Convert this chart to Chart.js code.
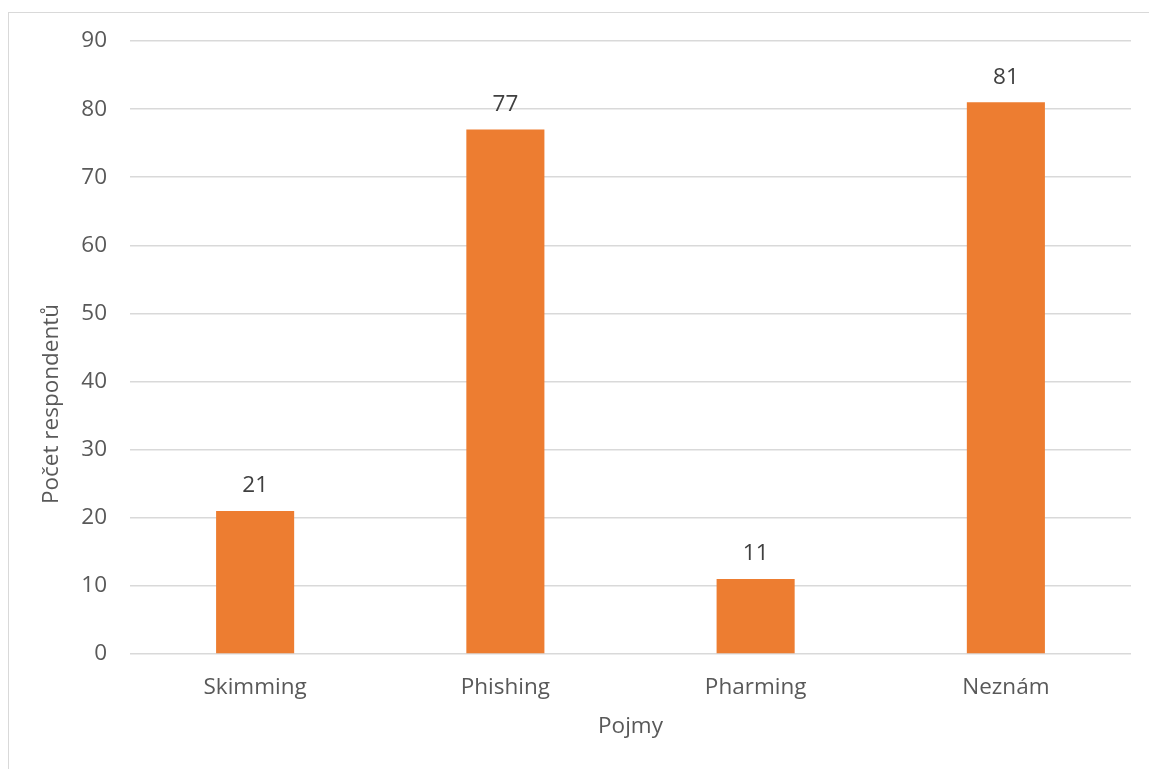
<!DOCTYPE html>
<html>
<head>
<meta charset="utf-8">
<script src="https://cdn.jsdelivr.net/npm/chart.js@4.4.1/dist/chart.umd.min.js"></script>
<style>
  html, body { margin: 0; padding: 0; background: #fff; overflow: hidden; }
  #frame { position: absolute; left: 8px; top: 12px; width: 1200px; height: 880px; border: 1px solid #d9d9d9; box-sizing: border-box; }
  #wrap { position: absolute; left: 0; top: 0; width: 1149px; height: 769px; }
</style>
</head>
<body>
<div id="frame"></div>
<div id="wrap"><canvas id="c" width="1149" height="769"></canvas></div>
<script>
const categories = ['Skimming', 'Phishing', 'Pharming', 'Neznám'];
const counts = [21, 77, 11, 81];
const yTicks = [0, 10, 20, 30, 40, 50, 60, 70, 80, 90];
const yTitle = 'Počet respondentů';
const xTitle = 'Pojmy';

const FONT = '"Open Sans", sans-serif';
const SIZE = 22.5;

// Writes each bar's value just above its top
const valueLabels = {
  id: 'valueLabels',
  afterDatasetsDraw(chart) {
    const ctx = chart.ctx;
    const meta = chart.getDatasetMeta(0);
    ctx.save();
    ctx.font = SIZE + 'px ' + FONT;
    ctx.fillStyle = '#404040';
    ctx.textAlign = 'center';
    ctx.textBaseline = 'middle';
    meta.data.forEach((bar, i) => {
      ctx.fillText(String(counts[i]), bar.x, bar.y - 25);
    });
    ctx.restore();
  }
};

// Vertical axis title, centred on the full chart frame rather than the plot
const sideTitle = {
  id: 'sideTitle',
  afterDraw(chart) {
    const ctx = chart.ctx;
    ctx.save();
    ctx.font = SIZE + 'px ' + FONT;
    ctx.fillStyle = '#595959';
    ctx.textAlign = 'center';
    ctx.textBaseline = 'middle';
    ctx.translate(52, 404);
    ctx.rotate(-Math.PI / 2);
    ctx.fillText(yTitle, 0, 0);
    ctx.restore();
  }
};

new Chart(document.getElementById('c'), {
  type: 'bar',
  data: {
    labels: categories,
    datasets: [{
      data: counts,
      backgroundColor: '#ED7D31',
      borderWidth: 0,
      categoryPercentage: 1,
      barPercentage: 0.312
    }]
  },
  options: {
    responsive: false,
    animation: false,
    layout: { padding: { left: 28, right: 18, top: 41, bottom: 15 } },
    plugins: { legend: { display: false }, tooltip: { enabled: false } },
    scales: {
      x: {
        grid: { display: false, drawTicks: false },
        border: { display: false },
        ticks: { color: '#595959', font: { family: FONT, size: SIZE }, padding: 20 },
        title: { display: true, text: xTitle, color: '#595959', font: { family: FONT, size: SIZE }, padding: { top: 4, bottom: 14 } },
        afterFit(scale) { scale.height = 100; }
      },
      y: {
        min: 0, max: 90,
        afterBuildTicks(scale) { scale.ticks = yTicks.map(v => ({ value: v })); },
        grid: { color: '#d9d9d9', lineWidth: 1.5, drawTicks: false },
        border: { display: false },
        ticks: { color: '#595959', font: { family: FONT, size: SIZE }, padding: 23 },
        title: { display: false },
        afterFit(scale) { scale.width = 102; }
      }
    }
  },
  plugins: [valueLabels, sideTitle]
});
</script>
</body>
</html>
